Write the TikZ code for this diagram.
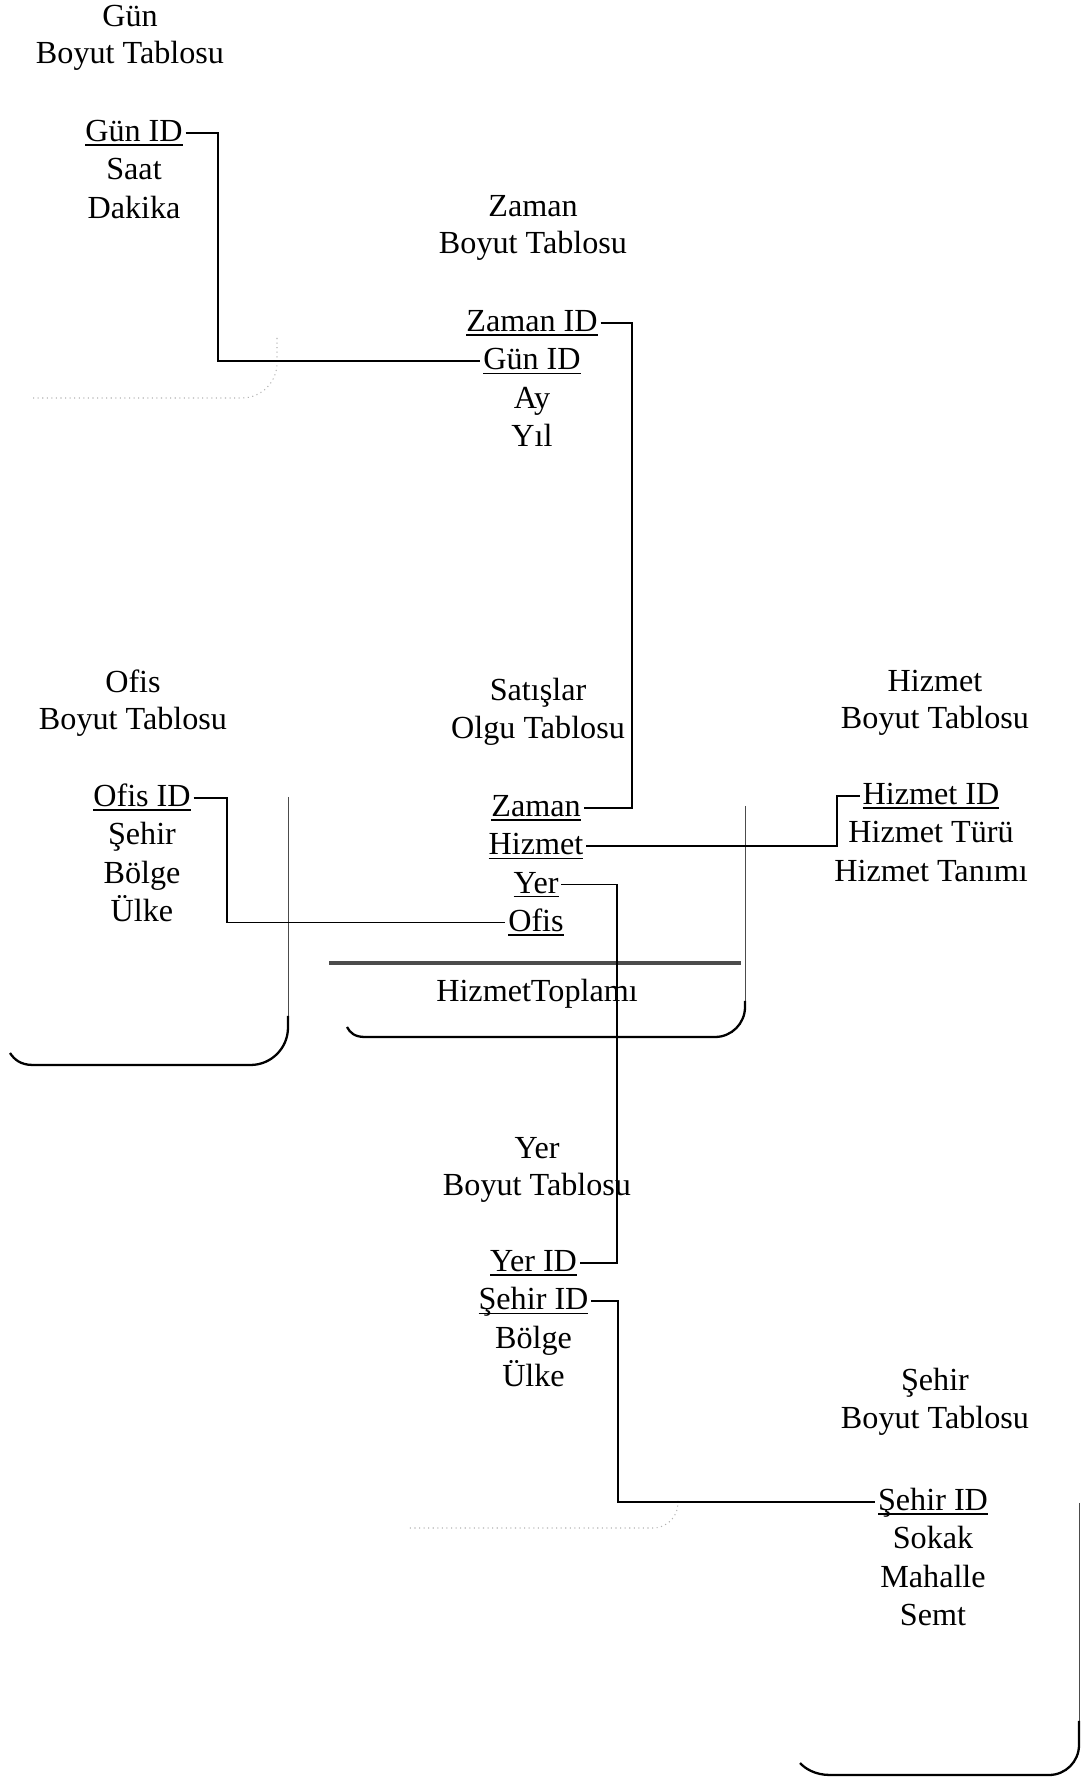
\documentclass[tikz,border=0pt]{standalone}
\usepackage{fontspec}
\setmainfont{Liberation Serif}
\usepackage{tikz}
\usetikzlibrary{positioning}
\newcommand{\tabfont}{\fontsize{18.3}{21.4}\selectfont}
\newsavebox{\pkbox}
\newcommand{\pk}[1]{\sbox{\pkbox}{#1}\rlap{\rule[-2.4pt]{\wd\pkbox}{0.9pt}}\usebox{\pkbox}}
\tikzset{
  tabtitle/.style={align=center, font=\tabfont, inner sep=0pt},
  field/.style={font=\tabfont, inner xsep=1.5pt, inner ysep=0pt, text height=0.55cm, text depth=0.2cm},
  link/.style={line width=0.8pt, draw=black},
  frame/.style={line width=0.5pt, draw=black!70},
  framebold/.style={line width=1.3pt, draw=black},
  faint/.style={line width=0.6pt, draw=black!30, dotted},
  sumline/.style={line width=1.8pt, draw=black!70}
}

\begin{document}
\begin{tikzpicture}[x=1cm,y=1cm]
  \path[use as bounding box, fill=white] (0,0) rectangle (21.64,35.62);

  % Gun
  \node[tabtitle] (gunT) at (2.60,34.86) {Gün\\Boyut Tablosu};
  \node[field] (gunID) at (2.68,32.96) {\pk{Gün ID}};
  \node[field, below=0pt of gunID] (gunSaat) {Saat};
  \node[field, below=0pt of gunSaat] (gunDakika) {Dakika};
  \draw[faint, rounded corners=0.7cm] (5.54,28.86) |- (0.6,27.66);

  % Zaman
  \node[tabtitle] (zamanT) at (10.66,31.06) {Zaman\\Boyut Tablosu};
  \node[field] (zamanID) at (10.64,29.16) {\pk{Zaman ID}};
  \node[field, below=0pt of zamanID] (zamanGun) {\pk{Gün ID}};
  \node[field, below=0pt of zamanGun] (zamanAy) {Ay};
  \node[field, below=0pt of zamanAy] (zamanYil) {Yıl};

  % Ofis
  \node[tabtitle] (ofisT) at (2.66,21.56) {Ofis\\Boyut Tablosu};
  \node[field] (ofisID) at (2.84,19.66) {\pk{Ofis ID}};
  \node[field, below=0pt of ofisID] (ofisSehir) {Şehir};
  \node[field, below=0pt of ofisSehir] (ofisBolge) {Bölge};
  \node[field, below=0pt of ofisBolge] (ofisUlke) {Ülke};
  \draw[frame] (5.76,19.68) -- (5.76,15.3);
  \draw[framebold, rounded corners=0.75cm] (5.76,15.3) |- (0.66,14.32);
  \draw[framebold] (0.66,14.32) .. controls (0.4,14.32) and (0.28,14.44) .. (0.2,14.56);

  % Satislar
  \node[tabtitle] (satT) at (10.76,21.38) {Satışlar\\Olgu Tablosu};
  \node[field] (satZaman) at (10.72,19.46) {\pk{Zaman}};
  \node[field, below=0pt of satZaman] (satHizmet) {\pk{Hizmet}};
  \node[field, below=0pt of satHizmet] (satYer) {\pk{Yer}};
  \node[field, below=0pt of satYer] (satOfis) {\pk{Ofis}};
  \draw[sumline] (6.58,16.36) -- (14.82,16.36);
  \node[field] (satToplam) at (10.74,15.76) {HizmetToplamı};
  \draw[frame] (14.90,19.50) -- (14.90,15.6);
  \draw[framebold, rounded corners=0.6cm] (14.90,15.6) |- (7.3,14.88);
  \draw[framebold] (7.3,14.88) .. controls (7.1,14.88) and (7.0,14.96) .. (6.94,15.08);

  % Hizmet
  \node[tabtitle] (hizT) at (18.70,21.56) {Hizmet\\Boyut Tablosu};
  \node[field] (hizID) at (18.62,19.70) {\pk{Hizmet ID}};
  \node[field, below=0pt of hizID] (hizTur) {Hizmet Türü};
  \node[field, below=0pt of hizTur] (hizTanim) {Hizmet Tanımı};

  % Yer
  \node[tabtitle] (yerT) at (10.74,12.22) {Yer\\Boyut Tablosu};
  \node[field] (yerID) at (10.67,10.36) {\pk{Yer ID}};
  \node[field, below=0pt of yerID] (yerSehir) {\pk{Şehir ID}};
  \node[field, below=0pt of yerSehir] (yerBolge) {Bölge};
  \node[field, below=0pt of yerBolge] (yerUlke) {Ülke};
  \draw[faint, rounded corners=0.5cm] (13.56,5.6) |- (8.18,5.06);

  % Sehir
  \node[tabtitle] (sehT) at (18.70,7.58) {Şehir\\Boyut Tablosu};
  \node[field] (sehID) at (18.66,5.58) {\pk{Şehir ID}};
  \node[field, below=0pt of sehID] (sehSokak) {Sokak};
  \node[field, below=0pt of sehSokak] (sehMahalle) {Mahalle};
  \node[field, below=0pt of sehMahalle] (sehSemt) {Semt};
  \draw[frame] (21.58,5.56) -- (21.58,1.2);
  \draw[framebold, rounded corners=0.6cm] (21.58,1.2) |- (16.6,0.12);
  \draw[framebold] (16.6,0.12) .. controls (16.3,0.12) and (16.1,0.25) .. (16.0,0.36);

  % key links
  \coordinate (gunBend) at (4.36,0);
  \coordinate (zamanBend) at (12.64,0);
  \coordinate (ofisBend) at (4.54,0);
  \coordinate (hizBend) at (16.74,0);
  \coordinate (yerBend) at (12.34,0);
  \coordinate (sehBend) at (12.36,0);
  \foreach \src/\bend/\dst in {gunID.east/gunBend/zamanGun.west, zamanID.east/zamanBend/satZaman.east,
      ofisID.east/ofisBend/satOfis.west, satHizmet.east/hizBend/hizID.west,
      satYer.east/yerBend/yerID.east, yerSehir.east/sehBend/sehID.west}
    \draw[link] (\src) -- (\src -| \bend) |- (\dst);
\end{tikzpicture}
\end{document}
